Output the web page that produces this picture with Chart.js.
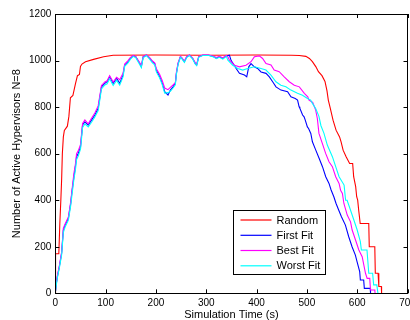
<!DOCTYPE html>
<html>
<head>
<meta charset="utf-8">
<script src="https://cdn.jsdelivr.net/npm/chart.js@4.4.1/dist/chart.umd.min.js"></script>
<style>
    body { margin: 0; overflow: hidden; background: #fff; }
    canvas { display: block; }
</style>
</head>
<body>
<canvas id="simChart" width="440" height="320"></canvas>
<script>

const seriesNames = ["Random", "First Fit", "Best Fit", "Worst Fit"];
const seriesColors = ["#ff0000", "#0000ff", "#ff00ff", "#00ffff"];

const xTicks = [0, 100, 200, 300, 400, 500, 600, 700];
const yTicks = [0, 200, 400, 600, 800, 1000, 1200];

// Random
const randomTime = [0, 0.5, 7, 9, 11, 12.6, 14, 16, 18, 24, 27, 30, 35, 40, 44, 48, 50, 53, 60, 76, 96, 115, 200, 300, 400, 470, 485, 498, 505, 511, 518, 523, 530, 536, 540, 542.6, 546, 552, 558, 565, 568, 572, 578, 585, 591, 593, 597, 599, 601, 603, 606, 623, 624, 635, 636, 641.5, 643, 648, 648.5];
const randomCount = [0, 170, 170, 300, 400, 490, 600, 672, 700, 718, 760, 840, 850, 900, 935, 940, 975, 985, 995, 1005, 1016, 1023, 1024, 1023, 1024, 1023, 1022, 1018, 1009, 995, 973, 952, 935, 910, 870, 830, 800, 744, 701, 672, 651, 615, 587, 558, 558, 501, 458, 415, 400, 357, 300, 300, 200, 200, 86, 86, 29, 29, 0];

// First Fit
const firstTime = [0, 2, 4, 8, 12.6, 16, 19.5, 26, 30.7, 32.7, 37, 40, 42.3, 45.6, 50.2, 54.2, 58.8, 65.4, 72, 78.6, 85.2, 91.8, 98.4, 103, 108, 115, 121.8, 128, 134.6, 137.9, 144.5, 149, 154.8, 160, 167.9, 171, 174.6, 181, 187.6, 193, 197.6, 200.9, 207.5, 212.8, 217.4, 224, 228.7, 234, 238.6, 240.7, 244, 248.7, 252, 256.6, 261.2, 266.5, 273, 278.3, 281, 285, 293, 305, 315, 320, 326, 333, 340, 346, 349.5, 354, 359.4, 366, 376, 380.5, 384.5, 389, 395.6, 402, 408.9, 418.8, 425.4, 432, 438.6, 448.5, 461.7, 468.3, 476.9, 481.5, 484.6, 486, 491.5, 494.5, 496.8, 501, 503.4, 507.8, 511, 517.7, 524.3, 531, 537.5, 544, 548, 553.6, 558, 563.4, 568.7, 576.6, 583.2, 589.8, 596.4, 599.7, 605, 606.3, 612.9, 614.2, 626, 626.5];
const firstCount = [0, 40, 71, 114, 172, 272, 293, 322, 387, 429, 500, 545, 587, 601, 630, 723, 737, 723, 744, 766, 795, 887, 902, 909, 931, 902, 924, 902, 938, 981, 995, 1009, 1020, 1016, 987, 973, 1016, 1023, 1009, 995, 987, 958, 930, 902, 866, 852, 873, 887, 902, 945, 987, 1016, 1009, 995, 1016, 1023, 1009, 987, 981, 1016, 1023, 1023, 1016, 1010, 1016, 1009, 1020, 1023, 1000, 985, 966, 945, 938, 930, 973, 987, 973, 966, 951, 945, 930, 909, 887, 873, 866, 844, 837, 830, 801, 795, 766, 758, 744, 715, 708, 687, 651, 615, 580, 544, 501, 472, 445, 415, 386, 357, 329, 293, 243, 200, 164, 136, 93, 57, 57, 21, 21, 0];

// Best Fit
const bestTime = [0, 2, 4, 8, 12.6, 16, 19.5, 26, 30.7, 33, 37, 40, 42.3, 45.6, 50.2, 54.2, 58.8, 65.4, 72, 78.6, 85.2, 91.8, 98.4, 103, 108, 115, 121.8, 128, 134.6, 137.9, 144.5, 149, 154.8, 160, 167.9, 171, 174.6, 181, 187.6, 193, 197.6, 200.9, 207.5, 212.8, 217.4, 224, 228.7, 234, 238.6, 240.7, 244, 248.7, 252, 256.6, 261.2, 266.5, 273, 278.3, 281, 285, 293, 305, 315, 320, 326, 333, 340, 343, 346, 356, 366, 379, 389, 395.6, 405.5, 412, 418.8, 428.7, 435, 445, 455, 465, 475, 485, 495, 501.8, 504.3, 511.6, 517.5, 520.8, 524, 530.7, 537.3, 544, 550.7, 557.3, 564, 567, 570.6, 573.6, 580.2, 586.8, 590, 596.7, 603.3, 609.9, 616.5, 619.8, 625, 626.4, 635, 635.5];
const bestCount = [0, 45, 75, 118, 178, 280, 298, 328, 395, 440, 515, 555, 600, 612, 640, 730, 745, 728, 752, 775, 805, 893, 908, 913, 935, 908, 928, 918, 945, 985, 1000, 1012, 1022, 1016, 990, 978, 1018, 1024, 1012, 998, 990, 965, 940, 912, 882, 875, 885, 895, 905, 950, 990, 1018, 1010, 998, 1018, 1024, 1011, 990, 985, 1018, 1024, 1024, 1018, 1013, 1018, 1012, 1022, 1016, 1002, 980, 973, 980, 995, 1016, 1020, 1009, 987, 981, 959, 952, 930, 909, 894, 887, 859, 844, 830, 820, 787, 751, 687, 644, 601, 565, 544, 501, 472, 443, 429, 386, 336, 307, 272, 229, 186, 157, 86, 64, 64, 14, 14, 0];

// Worst Fit
const worstTime = [0, 2, 4, 8, 12.6, 16, 19.5, 26, 30.7, 33, 37, 40, 42.3, 45.6, 50.2, 54.2, 58.8, 65.4, 72, 78.6, 85.2, 91.8, 98.4, 103, 108, 115, 121.8, 128, 134.6, 137.9, 144.5, 149, 154.8, 160, 167.9, 171, 174.6, 181, 187.6, 193, 197.6, 200.9, 207.5, 212.8, 217.4, 224, 228.7, 234, 238.6, 240.7, 244, 248.7, 252, 256.6, 261.2, 266.5, 273, 278.3, 281, 285, 293, 305, 315, 320, 326, 333, 340, 343, 352.7, 362.6, 372.5, 382.4, 395.6, 408.8, 418.7, 428.6, 438.5, 448.4, 458.3, 468.2, 481.4, 491.3, 501.2, 507.6, 511, 517.5, 524, 528, 534, 540.6, 550.7, 557.3, 564, 574, 577, 580, 586.8, 593.4, 600, 606.3, 608.3, 619.5, 623, 630.7, 632.7, 639, 641.3];
const worstCount = [0, 35, 65, 108, 165, 262, 285, 315, 378, 420, 490, 530, 575, 590, 620, 712, 728, 715, 735, 758, 785, 878, 895, 900, 922, 893, 915, 895, 930, 975, 990, 1005, 1018, 1012, 982, 970, 1012, 1022, 1006, 990, 982, 952, 925, 895, 860, 862, 868, 882, 896, 940, 983, 1014, 1006, 992, 1013, 1022, 1006, 984, 978, 1014, 1022, 1022, 1015, 1008, 1014, 1006, 1018, 1002, 980, 966, 959, 966, 973, 966, 959, 937, 909, 894, 887, 873, 859, 851, 837, 830, 816, 794, 760, 720, 687, 637, 587, 544, 501, 465, 400, 400, 357, 315, 272, 222, 186, 186, 86, 86, 36, 36, 0];

const seriesTimes = [randomTime, firstTime, bestTime, worstTime];
const seriesCounts = [randomCount, firstCount, bestCount, worstCount];

Chart.defaults.font.family = "'Liberation Sans', Arial, sans-serif";
Chart.defaults.color = "#000";

function toPoints(times, counts){
    return times.map((t, i) => ({ x: t, y: counts[i] }));
}

// box round the plot with inward ticks on all four sides
const framePlugin = {
    id: "frame",
    afterDatasetsDraw(chart){
        const c = chart.ctx;
        const a = chart.chartArea;
        const xs = chart.scales.x;
        const ys = chart.scales.y;
        const len = 4;

        c.save();
        c.strokeStyle = "#000";
        c.lineWidth = 1;
        c.beginPath();

        xTicks.forEach(v => {
            const px = Math.round(xs.getPixelForValue(v)) + 0.5;
            c.moveTo(px, a.bottom);
            c.lineTo(px, a.bottom - len);
            c.moveTo(px, a.top);
            c.lineTo(px, a.top + len);
        });

        yTicks.forEach(v => {
            const py = Math.round(ys.getPixelForValue(v)) + 0.5;
            c.moveTo(a.left, py);
            c.lineTo(a.left + len, py);
            c.moveTo(a.right, py);
            c.lineTo(a.right - len, py);
        });

        c.stroke();
        c.strokeRect(Math.round(a.left) + 0.5, Math.round(a.top) + 0.5,
            Math.round(a.right - a.left), Math.round(a.bottom - a.top));
        c.restore();
    }
};

// legend box inside the plot, lower right
const legendPlugin = {
    id: "boxLegend",
    afterDraw(chart){
        const c = chart.ctx;
        const boxX = 233.5, boxY = 210.5, boxW = 92, boxH = 64;
        const rows = [220, 235.3, 250.5, 265.8];

        c.save();
        c.fillStyle = "#fff";
        c.fillRect(boxX, boxY, boxW, boxH);
        c.strokeStyle = "#000";
        c.lineWidth = 1;
        c.strokeRect(boxX, boxY, boxW, boxH);

        c.font = "11px 'Liberation Sans', Arial, sans-serif";
        c.textBaseline = "middle";

        chart.data.datasets.forEach((ds, i) => {
            const y = rows[i];
            c.strokeStyle = ds.borderColor;
            c.lineWidth = 1.2;
            c.beginPath();
            c.moveTo(240.5, y);
            c.lineTo(271.5, y);
            c.stroke();

            c.fillStyle = "#000";
            c.fillText(ds.label, 276.5, y + 0.5);
        });

        c.restore();
    }
};

const ctx = document.getElementById("simChart");

const chart = new Chart(ctx, {

    type: "line",

    data: {
        datasets: seriesNames.map((name, i) => ({
            label: name,
            data: toPoints(seriesTimes[i], seriesCounts[i]),
            borderColor: seriesColors[i],
            backgroundColor: seriesColors[i],
            borderWidth: 1.1,
            pointRadius: 0,
            fill: false,
            tension: 0,
            order: seriesNames.length - i
        }))
    },

    options: {
        responsive: false,
        animation: false,
        events: [],
        layout: {
            padding: { top: 14, right: 32.5, left: 0, bottom: 0 }
        },
        plugins: {
            legend: { display: false },
            tooltip: { enabled: false }
        },
        scales: {
            x: {
                type: "linear",
                min: 0,
                max: 700,
                afterBuildTicks: scale => {
                    scale.ticks = xTicks.map(v => ({ value: v }));
                },
                afterFit: scale => {
                    scale.height = 26.7;
                },
                grid: { display: false, drawTicks: false },
                border: { display: false },
                ticks: {
                    padding: 4,
                    maxRotation: 0,
                    autoSkip: false,
                    font: { size: 10 },
                    color: "#000",
                    callback: v => String(v)
                },
                title: {
                    display: true,
                    text: "Simulation Time (s)",
                    font: { size: 11, lineHeight: 1 },
                    padding: { top: 0, bottom: 0 },
                    color: "#000"
                }
            },
            y: {
                min: 0,
                max: 1200,
                afterBuildTicks: scale => {
                    scale.ticks = yTicks.map(v => ({ value: v }));
                },
                afterFit: scale => {
                    scale.width = 55.3;
                },
                grid: { display: false, drawTicks: false },
                border: { display: false },
                ticks: {
                    padding: 4,
                    autoSkip: false,
                    font: { size: 10 },
                    color: "#000",
                    callback: v => String(v)
                },
                title: {
                    display: true,
                    text: "Number of Active Hypervisors N=8",
                    font: { size: 11, lineHeight: 1.2 },
                    padding: { top: 10.4, bottom: 0 },
                    color: "#000"
                }
            }
        }
    },

    plugins: [framePlugin, legendPlugin]
});

</script>
</body>
</html>
